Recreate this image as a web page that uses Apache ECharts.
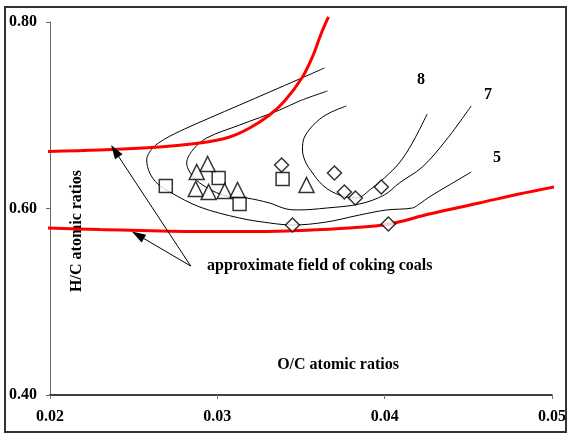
<!DOCTYPE html>
<html>
<head>
<meta charset="utf-8">
<script src="https://cdn.jsdelivr.net/npm/echarts@6/dist/echarts.min.js"></script>
<style>
  html, body { margin: 0; padding: 0; background: #fff; }
  #chart { width: 569px; height: 435px; }
</style>
</head>
<body>
<div id="chart"></div>
<script>
// Axis ranges and tick values
const xTicks = [0.02, 0.03, 0.04, 0.05];
const yTicks = [0.40, 0.60, 0.80];

// Boundaries of the coking-coal field (red)
const upperBoundary = [
  [0.01964, 0.6611], [0.02298, 0.6627], [0.02656, 0.6660], [0.02895, 0.6702],
  [0.03074, 0.6767], [0.03193, 0.6863], [0.03312, 0.7003], [0.03402, 0.7153],
  [0.03509, 0.7410], [0.03568, 0.7625], [0.03622, 0.7882], [0.03664, 0.8054]
];
const lowerBoundary = [
  [0.01964, 0.5791], [0.02298, 0.5775], [0.02895, 0.5753], [0.03252, 0.5753],
  [0.03491, 0.5764], [0.03789, 0.5791], [0.04028, 0.5834], [0.04266, 0.5941],
  [0.04565, 0.6059], [0.04803, 0.6155], [0.05042, 0.6241]
];

// Iso-lines
const contour5 = [
  [0.03640, 0.7507], [0.03491, 0.7389], [0.03312, 0.7249], [0.03133, 0.7110],
  [0.02954, 0.6971], [0.02805, 0.6853], [0.02686, 0.6745], [0.02614, 0.6649],
  [0.02578, 0.6520], [0.02596, 0.6381], [0.02644, 0.6263], [0.02716, 0.6177],
  [0.02895, 0.6016], [0.03133, 0.5898], [0.03312, 0.5845], [0.03449, 0.5823],
  [0.03652, 0.5855], [0.03849, 0.5930], [0.04010, 0.5984], [0.04165, 0.6005],
  [0.04207, 0.6048], [0.04266, 0.6123], [0.04386, 0.6252], [0.04517, 0.6391]
];
const contour7 = [
  [0.03658, 0.7260], [0.03491, 0.7153], [0.03372, 0.7056], [0.03133, 0.6895],
  [0.02936, 0.6756], [0.02853, 0.6627], [0.02817, 0.6488], [0.02835, 0.6391],
  [0.02895, 0.6273], [0.03032, 0.6145], [0.03175, 0.6113], [0.03312, 0.6059],
  [0.03413, 0.5995], [0.03491, 0.5985], [0.03652, 0.6005], [0.03849, 0.6048],
  [0.03998, 0.6145], [0.04087, 0.6273], [0.04225, 0.6445], [0.04368, 0.6735],
  [0.04517, 0.7099]
];
const contour8 = [
  [0.03771, 0.7099], [0.03670, 0.7024], [0.03592, 0.6928], [0.03521, 0.6767],
  [0.03509, 0.6627], [0.03527, 0.6499], [0.03569, 0.6381], [0.03622, 0.6263],
  [0.03688, 0.6177], [0.03771, 0.6123], [0.03831, 0.6113], [0.03926, 0.6220],
  [0.03998, 0.6327], [0.04087, 0.6488], [0.04165, 0.6702], [0.04254, 0.7013]
];

// Coal samples
const squares = [
  [0.02692, 0.6241], [0.03008, 0.6327], [0.03133, 0.6048], [0.03390, 0.6316]
];
const triangles = [
  [0.02942, 0.6477], [0.02877, 0.6391], [0.02871, 0.6209], [0.02948, 0.6177],
  [0.03044, 0.6188], [0.03121, 0.6198], [0.03533, 0.6252]
];
const diamonds = [
  [0.03384, 0.6467], [0.03700, 0.6381], [0.03759, 0.6177], [0.03825, 0.6113],
  [0.03980, 0.6231], [0.03449, 0.5823], [0.04022, 0.5834]
];

// Annotation arrows: from the caption towards each boundary
const arrowFrom = [0.02841, 0.5383];
const arrowTo = [[0.02388, 0.6617], [0.02525, 0.5716]];

const serif = '"Liberation Serif", "Times New Roman", serif';

const chart = echarts.init(document.getElementById('chart'), null, { renderer: 'canvas' });

function curve(data, color, width, z) {
  return {
    type: 'line', data: data, smooth: 0.35, showSymbol: false, symbol: 'none',
    clip: false, silent: true, z: z,
    lineStyle: { color: color, width: width }
  };
}
function markers(data, symbol, size) {
  return {
    type: 'scatter', data: data, symbol: symbol, symbolSize: size, z: 5,
    itemStyle: { color: '#fff', borderColor: '#000', borderWidth: 1.5 }
  };
}

const option = {
  animation: false,
  backgroundColor: '#fff',
  grid: { left: 50, right: 16, top: 22, bottom: 40, containLabel: false },
  xAxis: {
    type: 'value', min: xTicks[0], max: xTicks[xTicks.length - 1], interval: 0.01,
    axisLine: { lineStyle: { color: '#000', width: 1.5 } },
    axisTick: { show: true, length: 4, lineStyle: { color: '#777' } },
    splitLine: { show: false },
    axisLabel: {
      margin: 14, color: '#000', fontFamily: serif, fontWeight: 'bold', fontSize: 16,
      formatter: v => v.toFixed(2)
    }
  },
  yAxis: {
    type: 'value', min: yTicks[0], max: yTicks[yTicks.length - 1], interval: 0.2,
    axisLine: { show: true, lineStyle: { color: '#666', width: 1 } },
    axisTick: { show: true, length: 4, lineStyle: { color: '#666' } },
    splitLine: { show: false },
    axisLabel: {
      margin: 13, color: '#000', fontFamily: serif, fontWeight: 'bold', fontSize: 16,
      formatter: v => v.toFixed(2)
    }
  },
  series: [
    curve(contour5, '#000', 1, 2),
    curve(contour7, '#000', 1, 2),
    curve(contour8, '#000', 1, 2),
    curve(upperBoundary, '#ff0000', 3, 3),
    curve(lowerBoundary, '#ff0000', 3, 3),
    markers(squares, 'rect', 13),
    markers(triangles, 'triangle', 15),
    markers(diamonds, 'diamond', 14),
    {
      type: 'line', data: [], silent: true, z: 4,
      markLine: {
        silent: true, animation: false,
        symbol: ['none', 'triangle'], symbolSize: [9, 14],
        label: { show: false },
        lineStyle: { color: '#000', width: 1, type: 'solid' },
        data: arrowTo.map(p => [{ coord: arrowFrom }, { coord: p }])
      }
    }
  ],
  graphic: [
    { type: 'rect', shape: { x: 5, y: 7, width: 561, height: 425 }, silent: true,
      style: { fill: 'none', stroke: '#333', lineWidth: 2 }, z: 100 },
    { type: 'text', x: 338, y: 365, silent: true,
      style: { text: 'O/C atomic ratios', font: 'bold 16px ' + serif, fill: '#000',
               textAlign: 'center', textVerticalAlign: 'middle' } },
    { type: 'text', x: 77, y: 231, rotation: Math.PI / 2, silent: true,
      style: { text: 'H/C atomic ratios', font: 'bold 16px ' + serif, fill: '#000',
               textAlign: 'center', textVerticalAlign: 'middle' } },
    { type: 'text', x: 207, y: 266, silent: true,
      style: { text: 'approximate field of coking coals', font: 'bold 16px ' + serif, fill: '#000',
               textAlign: 'left', textVerticalAlign: 'middle' } },
    { type: 'text', x: 421, y: 80, silent: true,
      style: { text: '8', font: 'bold 16px ' + serif, fill: '#000', textAlign: 'center', textVerticalAlign: 'middle' } },
    { type: 'text', x: 488, y: 95, silent: true,
      style: { text: '7', font: 'bold 16px ' + serif, fill: '#000', textAlign: 'center', textVerticalAlign: 'middle' } },
    { type: 'text', x: 497, y: 158, silent: true,
      style: { text: '5', font: 'bold 16px ' + serif, fill: '#000', textAlign: 'center', textVerticalAlign: 'middle' } }
  ]
};
chart.setOption(option);
</script>
</body>
</html>
